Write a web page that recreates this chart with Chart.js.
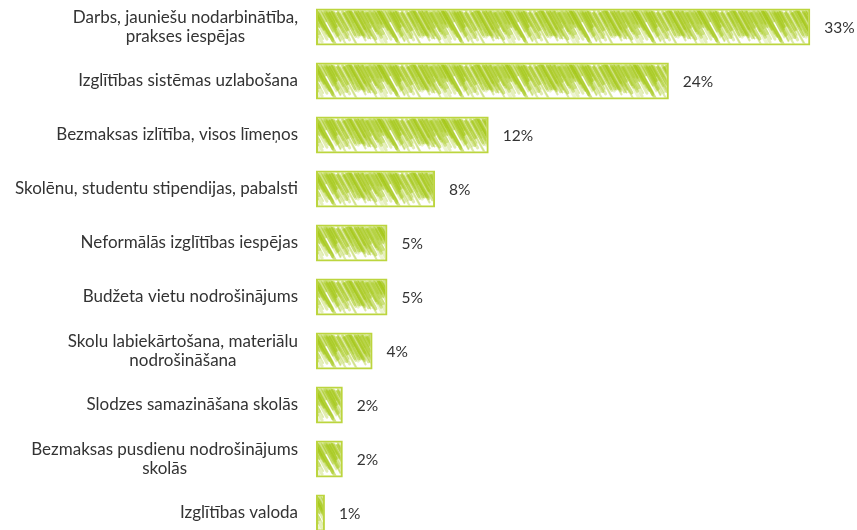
<!DOCTYPE html>
<html>
<head>
<meta charset="utf-8">
<script src="https://cdn.jsdelivr.net/npm/chart.js@4/dist/chart.umd.min.js"></script>
<style>
  html, body { margin: 0; padding: 0; background: #fff; overflow: hidden; }
  #wrap { width: 857px; height: 540px; position: relative; }
</style>
</head>
<body>
<div id="wrap"><canvas id="chart"></canvas></div>
<script>
// categories (multi-line labels as arrays)
const categories = [
    ['Darbs, jauniešu nodarbinātība,', 'prakses iespējas'],
    ['Izglītības sistēmas uzlabošana'],
    ['Bezmaksas izlītība, visos līmeņos'],
    ['Skolēnu, studentu stipendijas, pabalsti'],
    ['Neformālās izglītības iespējas'],
    ['Budžeta vietu nodrošinājums'],
    ['Skolu labiekārtošana, materiālu', 'nodrošināšana'],
    ['Slodzes samazināšana skolās'],
    ['Bezmaksas pusdienu nodrošinājums', 'skolās'],
    ['Izglītības valoda']
];

// share of answers, %
const shares = [33.2, 23.7, 11.6, 8.0, 4.8, 4.8, 3.8, 1.8, 1.8, 0.6];

const catFont = '17px Lato';
const valFont = '15.5px Lato';
const textColor = '#333333';
const borderGreen = '#bcd53e';

// scribbled green fill, like the original hatch (deterministic jitter)
function jit(n) {
    const s = Math.sin(n * 12.9898) * 43758.5453;
    return s - Math.floor(s);
}
function makePattern() {
    const c = document.createElement('canvas');
    c.width = 64;
    c.height = 54;
    const p = c.getContext('2d');
    p.lineCap = 'round';
    for (let i = 0; i < 85; i++) {
        const x = i * 0.8 - 10 + jit(i) * 4;
        const y0 = 9 + jit(i + 300) * 5;
        const len = jit(i + 500) > 0.8 ? 24 + jit(i + 100) * 10 : 9 + jit(i + 100) * 17;
        p.strokeStyle = 'rgba(165, 200, 25, ' + (0.2 + jit(i + 200) * 0.35) + ')';
        p.lineWidth = 1.2 + jit(i + 400) * 2.4;
        for (const off of [-64, 0, 64]) {
            p.beginPath();
            p.moveTo(x + off, y0);
            p.lineTo(x + off + len * 0.55, y0 + len);
            p.stroke();
        }
    }
    return c;
}

const ctx = document.getElementById('chart').getContext('2d');
const hatch = ctx.createPattern(makePattern(), 'repeat');

// category labels: right block, lines centred to each other
const categoryLabels = {
    id: 'categoryLabels',
    afterDraw(chart) {
        const y = chart.scales.y;
        const c = chart.ctx;
        c.save();
        c.font = catFont;
        c.fillStyle = textColor;
        c.textAlign = 'center';
        c.textBaseline = 'middle';
        const lh = 19;
        categories.forEach((lines, i) => {
            const cy = y.getPixelForValue(i);
            const w = Math.max(...lines.map(l => c.measureText(l).width));
            const cx = 298 - w / 2;
            lines.forEach((l, k) => {
                c.fillText(l, cx, cy + (k - (lines.length - 1) / 2) * lh);
            });
        });
        c.restore();
    }
};

// percentage labels at bar ends
const valueLabels = {
    id: 'valueLabels',
    afterDatasetsDraw(chart) {
        const c = chart.ctx;
        const meta = chart.getDatasetMeta(0);
        c.save();
        c.font = valFont;
        c.fillStyle = textColor;
        c.textAlign = 'left';
        c.textBaseline = 'middle';
        meta.data.forEach((bar, i) => {
            c.fillText(Math.round(shares[i]) + '%', bar.x + 14, bar.y + 1);
        });
        c.restore();
    }
};

new Chart(ctx, {
    type: 'bar',
    data: {
        labels: categories,
        datasets: [{
            data: shares,
            backgroundColor: hatch,
            borderColor: borderGreen,
            borderWidth: 2,
            borderSkipped: false,
            barPercentage: 0.9,
            categoryPercentage: 0.76
        }]
    },
    options: {
        indexAxis: 'y',
        responsive: true,
        maintainAspectRatio: false,
        animation: false,
        layout: { padding: { left: 0, right: 8, top: 0, bottom: 0 } },
        plugins: {
            legend: { display: false },
            tooltip: { enabled: false }
        },
        scales: {
            x: {
                display: false,
                min: 0,
                max: 35.8
            },
            y: {
                grid: { display: false },
                border: { display: false },
                ticks: { display: false },
                afterFit(scale) { scale.width = 316; }
            }
        }
    },
    plugins: [categoryLabels, valueLabels]
});
</script>
</body>
</html>
